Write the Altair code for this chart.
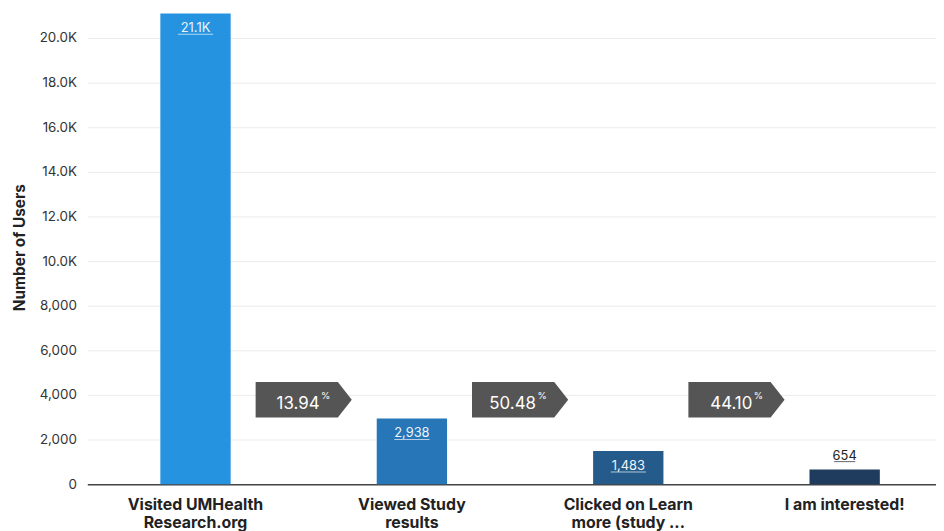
import altair as alt
import pandas as pd

categories = ["Visited UMHealth\nResearch.org", "Viewed Study\nresults",
              "Clicked on Learn\nmore (study ...", "I am interested!"]
values = [21100, 2938, 1483, 654]
value_labels = ["21.1K", "2,938", "1,483", "654"]
inside = [True, True, True, False]
bar_colors = ["#2693E0", "#2676B8", "#245B8B", "#1F3B5E"]
conv_labels = ["13.94", "50.48", "44.10"]
conv_y = 3780
y_ticks = [0, 2000, 4000, 6000, 8000, 10000, 12000, 14000, 16000, 18000, 20000]

bars = pd.DataFrame({
    "cat": categories,
    "val": values,
    "lab": value_labels,
    "inside": inside,
    "col": bar_colors,
})
bars["uw"] = [len(s) * 7.1 for s in value_labels]

conv = pd.DataFrame({"cat": categories[1:], "lab": conv_labels, "y": [conv_y] * 3})

FONT = "Inter"
R0, R1 = 2, 875
P_IN = 0.675
xscale = alt.Scale(domain=categories, range=[R0, R1], paddingInner=P_IN, paddingOuter=P_IN / 2)
yscale = alt.Scale(domain=[0, 21244], nice=False, zero=True)
STEP = (R1 - R0) / len(categories)
GAP_HALF = STEP * P_IN / 2  # from a bar's left edge back to the midpoint between bars

xenc = alt.X("cat:N", scale=xscale, sort=categories, title=None,
             axis=alt.Axis(labelExpr="split(datum.label, '\\n')", labelAngle=0,
                           labelFont=FONT, labelFontSize=16, labelFontWeight="bold",
                           labelColor="#222222", labelLineHeight=18, labelPadding=13,
                           ticks=False, domainColor="#444444", domainWidth=1.5,
                           grid=False))
yenc = alt.Y("val:Q", scale=yscale, title="Number of Users",
             axis=alt.Axis(values=y_ticks,
                           labelExpr="datum.value >= 10000 ? format(datum.value/1000, '.1f') + 'K' : format(datum.value, ',')",
                           labelFont=FONT, labelFontSize=13.5, labelColor="#333333",
                           labelPadding=9, ticks=False, domain=False,
                           gridColor="#EBEBEB", gridWidth=1,
                           titleFont=FONT, titleFontSize=15.5, titleFontWeight="bold",
                           titleColor="#222222", titlePadding=12))

xb = alt.X("cat:N", scale=xscale, sort=categories)
yb = alt.Y("val:Q", scale=yscale)

base = alt.Chart(bars)

bar = base.mark_bar().encode(
    x=xenc, y=yenc,
    color=alt.Color("col:N", scale=None),
)

vtext_in = base.transform_filter("datum.inside").mark_text(
    font=FONT, fontSize=13, baseline="alphabetic", color="#EEF4FB", dy=19
).encode(x=xb, y=yb, text="lab:N")
vtext_out = base.transform_filter("!datum.inside").mark_text(
    font=FONT, fontSize=13, baseline="alphabetic", color="#222222", dy=-10
).encode(x=xb, y=yb, text="lab:N")

uline_in = base.transform_filter("datum.inside").mark_tick(
    orient="horizontal", thickness=1, color="#EEF4FB", yOffset=21
).encode(x=xb, y=yb, size=alt.Size("uw:Q", scale=None))
uline_out = base.transform_filter("!datum.inside").mark_tick(
    orient="horizontal", thickness=1, color="#222222", yOffset=-8
).encode(x=xb, y=yb, size=alt.Size("uw:Q", scale=None))

cbase = alt.Chart(conv)
xc = alt.X("cat:N", scale=xscale, sort=categories, bandPosition=0)
yc = alt.Y("y:Q", scale=yscale)
arrow_path = "M-1,-0.37 L0.71,-0.37 L1,0 L0.71,0.37 L-1,0.37 Z"
arrows = cbase.mark_point(shape=arrow_path, filled=True, opacity=1, xOffset=-GAP_HALF,
                          color="#555555", size=97 * 97, strokeWidth=0).encode(x=xc, y=yc)
ctext = cbase.mark_text(font=FONT, fontSize=17, color="white", align="right",
                        baseline="alphabetic", dx=16 - GAP_HALF, dy=9).encode(x=xc, y=yc, text="lab:N")
pct = cbase.mark_text(font=FONT, fontSize=9.5, color="white", align="left",
                      baseline="alphabetic", dx=17.5 - GAP_HALF, dy=-1).encode(x=xc, y=yc, text=alt.value("%"))

chart = alt.layer(bar, vtext_in, vtext_out, uline_in, uline_out, arrows, ctext, pct).properties(
    width=858, height=478,
    background="white",
    autosize=alt.AutoSizeParams(type="none"),
    padding={"left": 78, "top": 0, "right": 0, "bottom": 45},
).configure_view(stroke=None)

chart.save("out.html", embed_options={"renderer": "svg", "actions": False})
